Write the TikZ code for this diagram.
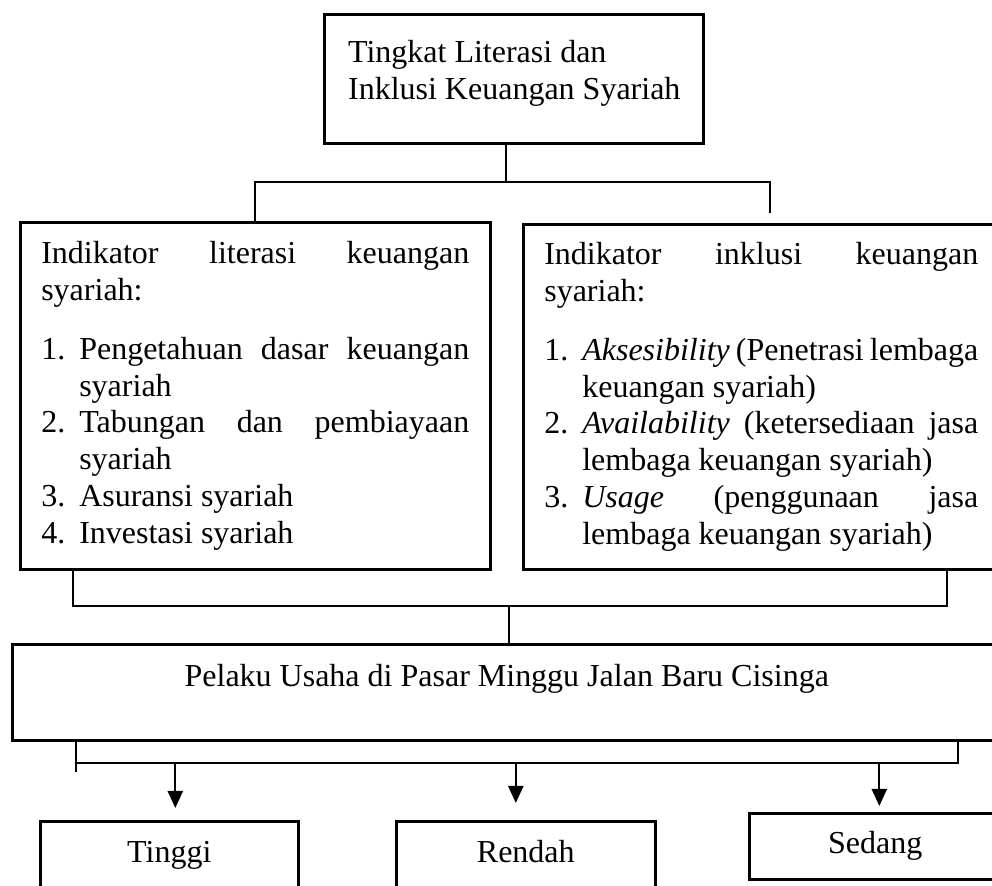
\documentclass[tikz,border=0pt]{standalone}
\usepackage{fontspec}
\setmainfont{Liberation Serif}
\usetikzlibrary{arrows.meta,positioning}
\setlength{\parindent}{0pt}
\tolerance=10000
\hyphenpenalty=10000
\newcommand{\butir}[2]{\par\hangindent=19pt\hangafter=1\noindent\makebox[19pt][l]{#1}#2\par}

\begin{document}
\begin{tikzpicture}[x=0.5pt, y=-0.5pt, line width=1.1pt,
  every node/.style={font=\fontsize{16}{18.4}\selectfont},
  kotak/.style={draw, line width=1.3pt, inner sep=0pt},
  isi/.style={kotak, align=justify, inner xsep=10.5pt, inner ysep=0pt},
  hasil/.style={kotak, text height=11pt, text depth=3.5pt},
  panah/.style={-{Triangle[length=8.5pt,width=7.5pt]}}]
  \useasboundingbox (0,0) rectangle (992,886);
  \node[kotak, minimum width=189.5pt, minimum height=64.5pt, anchor=north west] (judul) at (323,13) {};
  \node[anchor=north west, inner sep=0pt, align=left] (judulteks) at (347,39) {Tingkat Literasi dan\\Inklusi Keuangan Syariah};
  \node[isi, text width=214pt, minimum height=173.5pt, anchor=north west] (literasi) at (19,221) {Indikator literasi keuangan\linebreak syariah:\par\vspace{11pt}%
    \butir{1.}{Pengetahuan dasar keuangan\linebreak syariah}%
    \butir{2.}{Tabungan dan pembiayaan\linebreak syariah}%
    \butir{3.}{Asuransi syariah}%
    \butir{4.}{Investasi syariah}};
  \node[isi, text width=217pt, minimum height=172.5pt, anchor=north west] (inklusi) at (522,223) {Indikator inklusi keuangan\linebreak syariah:\par\vspace{11pt}%
    \butir{1.}{\textit{Aksesibility} (Penetrasi lembaga\linebreak keuangan syariah)}%
    \butir{2.}{\textit{Availability} (ketersediaan jasa\linebreak lembaga keuangan syariah)}%
    \butir{3.}{\textit{Usage} (penggunaan jasa\linebreak lembaga keuangan syariah)}};
  \node[kotak, minimum width=494.5pt, minimum height=48pt, text height=12pt, text depth=18pt, anchor=north west] (pelaku) at (11,643) {Pelaku Usaha di Pasar Minggu Jalan Baru Cisinga};
  \node[hasil, minimum width=129pt, minimum height=34pt, anchor=north west] (tinggi) at (39,820) {Tinggi};
  \node[hasil, minimum width=129.5pt, minimum height=34pt, anchor=north west] (rendah) at (395,820) {Rendah};
  \node[hasil, minimum width=126pt, minimum height=33pt, anchor=north west] (sedang) at (748,812) {Sedang};
  \coordinate (cabangAtas) at (506,182);
  \coordinate (cabangKiri) at (255,182);
  \coordinate (cabangKanan) at (770,182);
  \coordinate (ujungKanan) at (770,213);
  \coordinate (gabungKiri) at (73,606);
  \coordinate (gabungKanan) at (947,606);
  \coordinate (gabungTengah) at (509,606);
  \coordinate (bawahKiri) at (76,763);
  \coordinate (bawahKanan) at (958,763);
  \coordinate (ekorKiri) at (76,772);
  \draw (judul.south -| cabangAtas) -- (cabangAtas);
  \draw (literasi.north -| cabangKiri) -- (cabangKiri) -- (cabangKanan) -- (ujungKanan);
  \draw (literasi.south -| gabungKiri) -- (gabungKiri) -- (gabungKanan) -- (inklusi.south -| gabungKanan);
  \draw (gabungTengah) -- (pelaku.north -| gabungTengah);
  \draw (pelaku.south -| bawahKiri) -- (ekorKiri);
  \draw (bawahKiri) -- (bawahKanan) -- (pelaku.south -| bawahKanan);
  \draw[panah, shorten >=6pt] ([xshift=3pt]tinggi.north |- bawahKiri) -- ([xshift=3pt]tinggi.north);
  \draw[panah, shorten >=8.5pt] ([xshift=-5pt]rendah.north |- bawahKiri) -- ([xshift=-5pt]rendah.north);
  \draw[panah, shorten >=3pt] ([xshift=2pt]sedang.north |- bawahKiri) -- ([xshift=2pt]sedang.north);
\end{tikzpicture}
\end{document}
